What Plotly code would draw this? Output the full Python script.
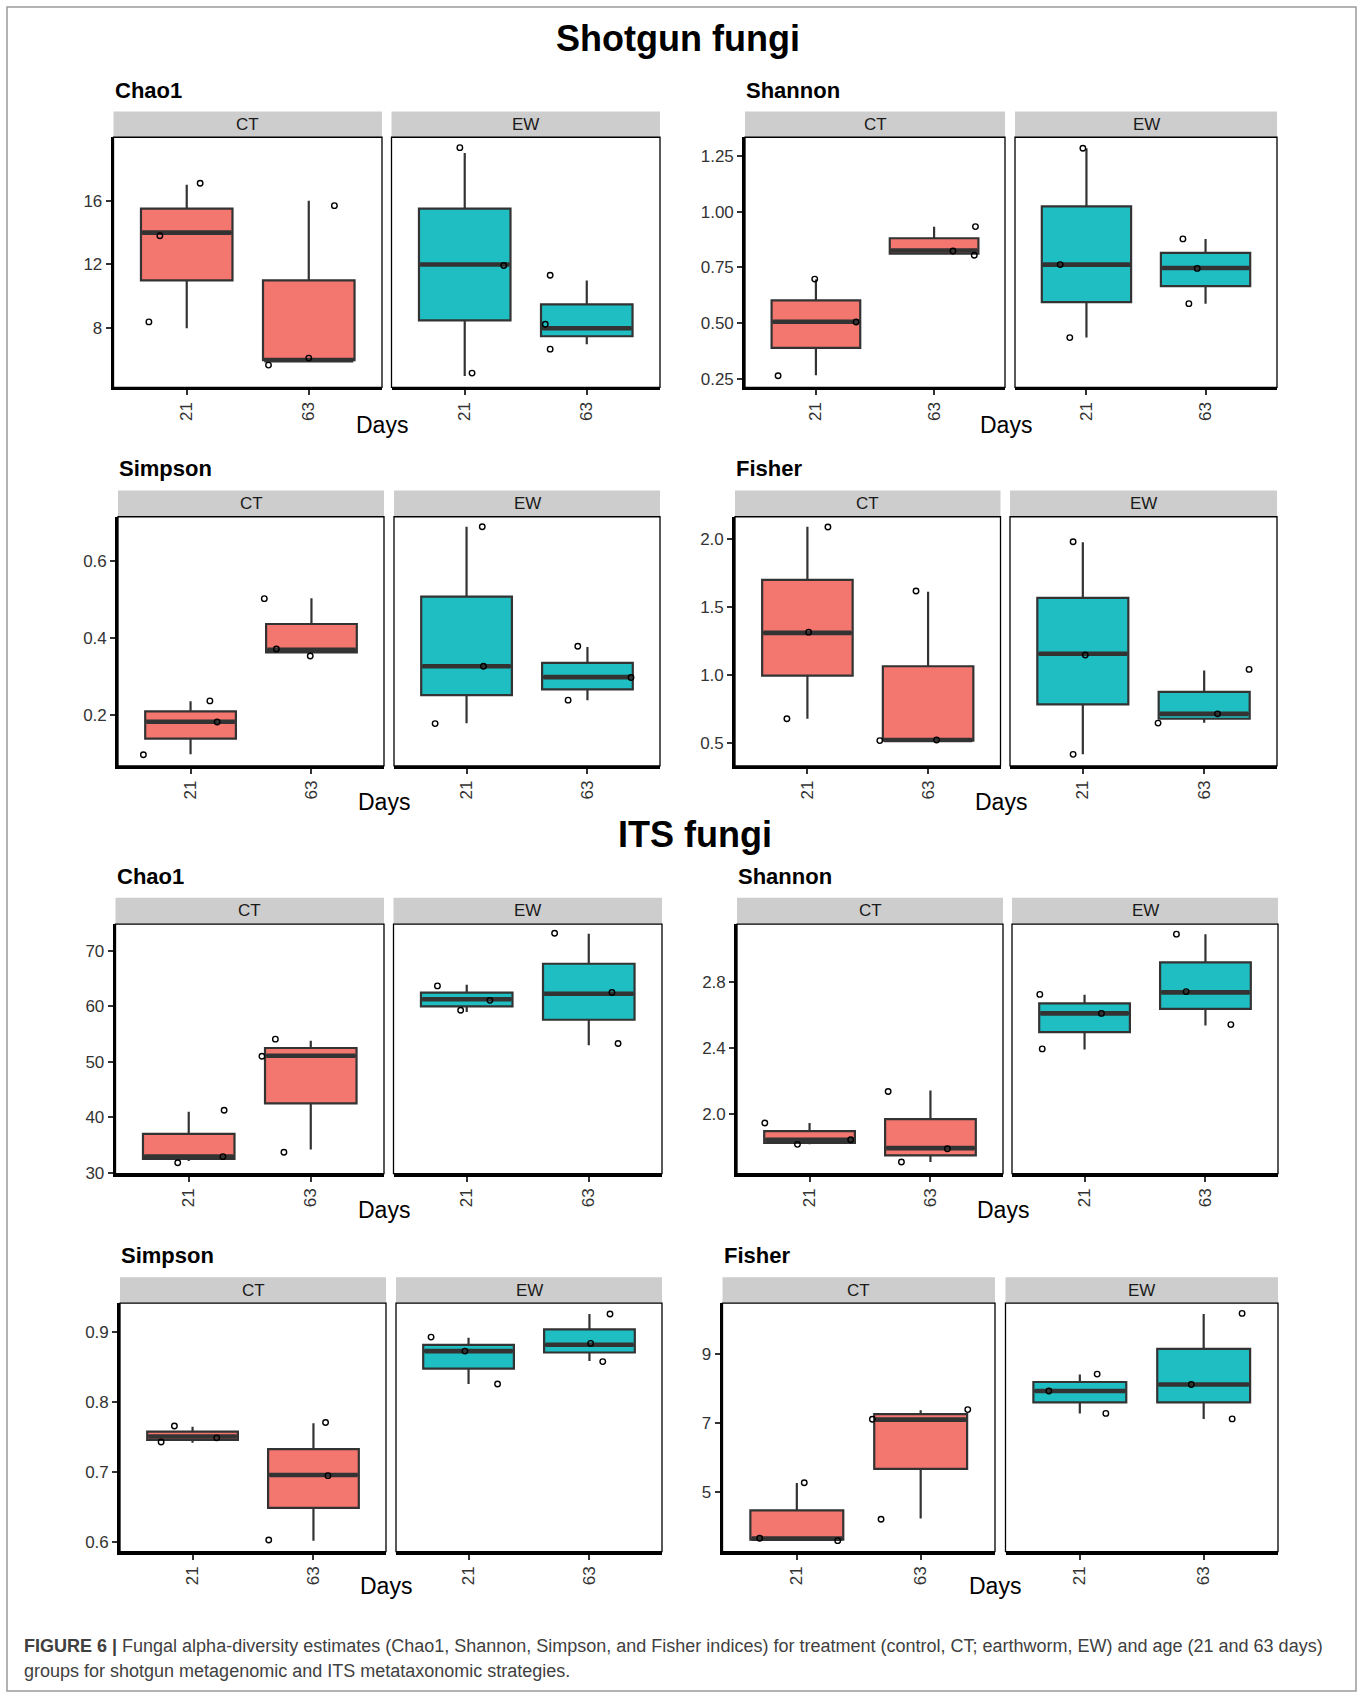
import plotly.graph_objects as go

W, H = 1363, 1692

DAYS = ["21", "63"]
TREATMENTS = ["CT", "EW"]
# Group order in every array below: CT-21, CT-63, EW-21, EW-63

# ---------------- Shotgun fungi ----------------
sg_chao1_lower = [8, 6, 5, 7]
sg_chao1_q1 = [11, 6, 8.5, 7.5]
sg_chao1_median = [14, 6, 12, 8]
sg_chao1_q3 = [15.5, 11, 15.5, 9.5]
sg_chao1_upper = [17, 16, 19, 11]
sg_chao1_points = [[8.4, 13.8, 17.1], [5.69, 6.13, 15.69], [19.33, 11.94, 5.19], [11.33, 8.25, 6.69]]
sg_chao1_jitter = [[-0.31, -0.22, 0.11], [-0.33, 0.0, 0.21], [-0.04, 0.32, 0.06], [-0.30, -0.34, -0.30]]
sg_chao1_ticks = [8, 12, 16]
sg_chao1_ticklabels = ["8", "12", "16"]

sg_shannon_lower = [0.268, 0.808, 0.436, 0.588]
sg_shannon_q1 = [0.39, 0.8125, 0.595, 0.667]
sg_shannon_median = [0.507, 0.826, 0.763, 0.748]
sg_shannon_q3 = [0.603, 0.881, 1.024, 0.815]
sg_shannon_upper = [0.696, 0.932, 1.284, 0.878]
sg_shannon_points = [[0.265, 0.506, 0.698], [0.824, 0.805, 0.933], [1.284, 0.763, 0.436], [0.878, 0.746, 0.588]]
sg_shannon_jitter = [[-0.32, 0.34, -0.01], [0.16, 0.34, 0.35], [-0.03, -0.22, -0.14], [-0.19, -0.07, -0.14]]
sg_shannon_ticks = [0.25, 0.50, 0.75, 1.00, 1.25]
sg_shannon_ticklabels = ["0.25", "0.50", "0.75", "1.00", "1.25"]

sg_simpson_lower = [0.097, 0.362, 0.178, 0.238]
sg_simpson_q1 = [0.138, 0.362, 0.251, 0.266]
sg_simpson_median = [0.182, 0.369, 0.326, 0.298]
sg_simpson_q3 = [0.209, 0.436, 0.507, 0.335]
sg_simpson_upper = [0.235, 0.503, 0.689, 0.376]
sg_simpson_points = [[0.096, 0.236, 0.181], [0.502, 0.371, 0.353], [0.689, 0.326, 0.177], [0.378, 0.297, 0.238]]
sg_simpson_jitter = [[-0.39, 0.16, 0.22], [-0.39, -0.29, -0.01], [0.13, 0.14, -0.26], [-0.08, 0.36, -0.16]]
sg_simpson_ticks = [0.2, 0.4, 0.6]
sg_simpson_ticklabels = ["0.2", "0.4", "0.6"]

sg_fisher_lower = [0.678, 0.517, 0.416, 0.648]
sg_fisher_q1 = [0.995, 0.517, 0.783, 0.678]
sg_fisher_median = [1.31, 0.522, 1.156, 0.714]
sg_fisher_q3 = [1.699, 1.064, 1.567, 0.875]
sg_fisher_upper = [2.09, 1.613, 1.977, 1.032]
sg_fisher_points = [[2.088, 1.315, 0.678], [1.618, 0.522, 0.517], [1.98, 1.147, 0.416], [1.041, 0.714, 0.646]]
sg_fisher_jitter = [[0.17, 0.01, -0.17], [-0.10, 0.07, -0.40], [-0.08, 0.02, -0.08], [0.37, 0.11, -0.38]]
sg_fisher_ticks = [0.5, 1.0, 1.5, 2.0]
sg_fisher_ticklabels = ["0.5", "1.0", "1.5", "2.0"]

# ---------------- ITS fungi ----------------
its_chao1_lower = [32.1, 34.2, 59.0, 53.0]
its_chao1_q1 = [32.5, 42.5, 60.0, 57.6]
its_chao1_median = [32.9, 51.1, 61.3, 62.3]
its_chao1_q3 = [37.0, 52.5, 62.5, 67.7]
its_chao1_upper = [41.0, 53.8, 63.9, 73.1]
its_chao1_points = [[31.8, 32.9, 41.26], [54.1, 51.0, 33.7], [63.7, 61.1, 59.3], [73.2, 62.5, 53.3]]
its_chao1_jitter = [[-0.09, 0.28, 0.29], [-0.29, -0.40, -0.22], [-0.24, 0.19, -0.05], [-0.28, 0.19, 0.24]]
its_chao1_ticks = [30, 40, 50, 60, 70]
its_chao1_ticklabels = ["30", "40", "50", "60", "70"]

its_shannon_lower = [1.815, 1.708, 2.389, 2.534]
its_shannon_q1 = [1.823, 1.748, 2.494, 2.635]
its_shannon_median = [1.843, 1.792, 2.608, 2.735]
its_shannon_q3 = [1.895, 1.968, 2.669, 2.917]
its_shannon_upper = [1.944, 2.141, 2.721, 3.088]
its_shannon_points = [[1.944, 1.815, 1.843], [2.135, 1.788, 1.708], [2.723, 2.608, 2.393], [3.088, 2.740, 2.540]]
its_shannon_jitter = [[-0.37, -0.10, 0.34], [-0.35, 0.14, -0.24], [-0.37, 0.14, -0.35], [-0.24, -0.16, 0.21]]
its_shannon_ticks = [2.0, 2.4, 2.8]
its_shannon_ticklabels = ["2.0", "2.4", "2.8"]

its_simpson_lower = [0.742, 0.602, 0.826, 0.859]
its_simpson_q1 = [0.746, 0.649, 0.848, 0.871]
its_simpson_median = [0.751, 0.696, 0.873, 0.882]
its_simpson_q3 = [0.758, 0.733, 0.882, 0.904]
its_simpson_upper = [0.765, 0.770, 0.892, 0.926]
its_simpson_points = [[0.766, 0.743, 0.749], [0.771, 0.695, 0.603], [0.893, 0.873, 0.826], [0.926, 0.884, 0.858]]
its_simpson_jitter = [[-0.15, -0.26, 0.20], [0.10, 0.12, -0.37], [-0.31, -0.03, 0.24], [0.17, 0.01, 0.11]]
its_simpson_ticks = [0.6, 0.7, 0.8, 0.9]
its_simpson_ticklabels = ["0.6", "0.7", "0.8", "0.9"]

its_fisher_lower = [3.62, 4.24, 7.29, 7.13]
its_fisher_q1 = [3.63, 5.68, 7.61, 7.61]
its_fisher_median = [3.66, 7.11, 7.94, 8.13]
its_fisher_q3 = [4.48, 7.27, 8.20, 9.16]
its_fisher_upper = [5.27, 7.38, 8.42, 10.17]
its_fisher_points = [[5.28, 3.67, 3.60], [7.40, 7.12, 4.22], [8.43, 7.94, 7.29], [10.19, 8.13, 7.13]]
its_fisher_jitter = [[0.06, -0.30, 0.33], [0.38, -0.39, -0.32], [0.14, -0.25, 0.21], [0.31, -0.10, 0.23]]
its_fisher_ticks = [5, 7, 9]
its_fisher_ticklabels = ["5", "7", "9"]

# ---------------- styles / layout ----------------
FILL = {"CT": "#F3766F", "EW": "#1FBEC2"}
EDGE = "#333333"
FONT = "Liberation Sans, Arial, Helvetica, sans-serif"
BOX_W = 0.75
TICK_SIZE = 17
STRIP_SIZE = 17

# rows: (title y, strip top, plot top, plot bottom, "Days" y) in px
ROWS = [
    (90, 112, 138, 389.5, 427),
    (470, 493, 519.5, 770, 806),
    (880, 902.5, 929, 1180, 1216),
    (1261, 1284, 1310, 1560, 1594),
]
# facet x extents [CT left, CT right, EW left, EW right] per (row, col)
XEXT = {
    (0, 0): [113.5, 382, 391.5, 660], (0, 1): [745, 1005, 1015, 1277],
    (1, 0): [118, 384, 394, 660], (1, 1): [735, 1000.5, 1010, 1277],
    (2, 0): [115.5, 384, 393.5, 662], (2, 1): [737, 1003, 1012, 1278],
    (3, 0): [120, 386, 396, 662], (3, 1): [722.5, 995, 1005.5, 1278],
}

panels = [
    ("Chao1", 0, 0, sg_chao1_lower, sg_chao1_q1, sg_chao1_median, sg_chao1_q3, sg_chao1_upper,
     sg_chao1_points, sg_chao1_jitter, sg_chao1_ticks, sg_chao1_ticklabels, [4.29, 19.98]),
    ("Shannon", 0, 1, sg_shannon_lower, sg_shannon_q1, sg_shannon_median, sg_shannon_q3, sg_shannon_upper,
     sg_shannon_points, sg_shannon_jitter, sg_shannon_ticks, sg_shannon_ticklabels, [0.213, 1.333]),
    ("Simpson", 1, 0, sg_simpson_lower, sg_simpson_q1, sg_simpson_median, sg_simpson_q3, sg_simpson_upper,
     sg_simpson_points, sg_simpson_jitter, sg_simpson_ticks, sg_simpson_ticklabels, [0.067, 0.715]),
    ("Fisher", 1, 1, sg_fisher_lower, sg_fisher_q1, sg_fisher_median, sg_fisher_q3, sg_fisher_upper,
     sg_fisher_points, sg_fisher_jitter, sg_fisher_ticks, sg_fisher_ticklabels, [0.331, 2.164]),
    ("Chao1", 2, 0, its_chao1_lower, its_chao1_q1, its_chao1_median, its_chao1_q3, its_chao1_upper,
     its_chao1_points, its_chao1_jitter, its_chao1_ticks, its_chao1_ticklabels, [29.82, 74.86]),
    ("Shannon", 2, 1, its_shannon_lower, its_shannon_q1, its_shannon_median, its_shannon_q3, its_shannon_upper,
     its_shannon_points, its_shannon_jitter, its_shannon_ticks, its_shannon_ticklabels, [1.637, 3.149]),
    ("Simpson", 3, 0, its_simpson_lower, its_simpson_q1, its_simpson_median, its_simpson_q3, its_simpson_upper,
     its_simpson_points, its_simpson_jitter, its_simpson_ticks, its_simpson_ticklabels, [0.5863, 0.9417]),
    ("Fisher", 3, 1, its_fisher_lower, its_fisher_q1, its_fisher_median, its_fisher_q3, its_fisher_upper,
     its_fisher_points, its_fisher_jitter, its_fisher_ticks, its_fisher_ticklabels, [3.28, 10.49]),
]

fig = go.Figure()
layout = {}
shapes = []
annotations = []

def px_x(v):
    return v / W

def px_y(v):
    return 1 - v / H

k = 0
for (title, r, c, lo, q1, med, q3, hi, pts, jit, tv, tt, yr) in panels:
    t_y, s_top, p_top, p_bot, d_y = ROWS[r]
    ext = XEXT[(r, c)]
    # panel title
    annotations.append(dict(text="<b>%s</b>" % title, x=px_x(ext[0] - 1), y=px_y(t_y + 1), xref="paper", yref="paper",
                            xanchor="left", yanchor="middle", showarrow=False,
                            font=dict(family=FONT, size=22, color="#000000")))
    # "Days"
    annotations.append(dict(text="Days", x=px_x((ext[0] + ext[3]) / 2 - 5), y=px_y(d_y), xref="paper", yref="paper",
                            xanchor="center", yanchor="middle", showarrow=False,
                            font=dict(family=FONT, size=23, color="#000000")))
    for f, trt in enumerate(TREATMENTS):
        k += 1
        xl, xr = ext[2 * f], ext[2 * f + 1]
        xa = "xaxis" if k == 1 else "xaxis%d" % k
        ya = "yaxis" if k == 1 else "yaxis%d" % k
        xs = "x" if k == 1 else "x%d" % k
        ys = "y" if k == 1 else "y%d" % k
        layout[xa] = dict(domain=[px_x(xl), px_x(xr)], range=[0.4, 2.6], anchor=ys,
                          tickmode="array", tickvals=[1, 2], ticktext=DAYS, tickangle=-90,
                          ticks="outside", ticklen=5, tickwidth=1.6, tickcolor="#333333",
                          tickfont=dict(family=FONT, size=TICK_SIZE, color="#333333"),
                          showline=True, linecolor="#000000", linewidth=2.6,
                          showgrid=False, zeroline=False, fixedrange=True)
        ydict = dict(domain=[px_y(p_bot), px_y(p_top)], range=yr, anchor=xs,
                     showgrid=False, zeroline=False, fixedrange=True)
        if f == 0:
            ydict.update(tickmode="array", tickvals=tv, ticktext=tt, ticks="outside", ticklen=5,
                         tickwidth=1.6, tickcolor="#333333",
                         tickfont=dict(family=FONT, size=TICK_SIZE, color="#333333"),
                         showline=True, linecolor="#000000", linewidth=2.6)
        else:
            ydict.update(showticklabels=False, ticks="", showline=False)
        layout[ya] = ydict

        idx = [2 * f, 2 * f + 1]
        pos = [1, 2]
        fig.add_trace(go.Box(
            x=pos, q1=[q1[i] for i in idx], median=[med[i] for i in idx], q3=[q3[i] for i in idx],
            lowerfence=[lo[i] for i in idx], upperfence=[hi[i] for i in idx],
            width=BOX_W, whiskerwidth=0, boxpoints=False,
            fillcolor=FILL[trt], line=dict(color=EDGE, width=2.2),
            xaxis=xs, yaxis=ys, showlegend=False, hoverinfo="skip"))
        # thicker median bar (ggplot fatten)
        mx, my = [], []
        for p, i in zip(pos, idx):
            mx += [p - BOX_W / 2 + 0.01, p + BOX_W / 2 - 0.01, None]
            my += [med[i], med[i], None]
        fig.add_trace(go.Scatter(x=mx, y=my, mode="lines", line=dict(color=EDGE, width=4.6),
                                 xaxis=xs, yaxis=ys, showlegend=False, hoverinfo="skip"))
        # jittered sample points
        px_, py_ = [], []
        for p, i in zip(pos, idx):
            for v, j in zip(pts[i], jit[i]):
                px_.append(p + j)
                py_.append(v)
        fig.add_trace(go.Scatter(x=px_, y=py_, mode="markers",
                                 marker=dict(symbol="circle-open", size=5.5, color="#000000",
                                             line=dict(width=1.4, color="#000000")),
                                 xaxis=xs, yaxis=ys, showlegend=False, hoverinfo="skip"))
        # panel border
        shapes.append(dict(type="rect", xref="%s domain" % xs, yref="%s domain" % ys,
                           x0=0, x1=1, y0=0, y1=1, line=dict(color="#000000", width=1.3), layer="above"))
        # strip
        shapes.append(dict(type="rect", xref="paper", yref="paper", x0=px_x(xl), x1=px_x(xr),
                           y0=px_y(p_top), y1=px_y(s_top), fillcolor="#CDCDCD", line=dict(width=0),
                           layer="below"))
        annotations.append(dict(text=trt, x=px_x((xl + xr) / 2), y=px_y((s_top + p_top) / 2),
                                xref="paper", yref="paper", xanchor="center", yanchor="middle",
                                showarrow=False, font=dict(family=FONT, size=STRIP_SIZE, color="#1A1A1A")))

# big titles
annotations.append(dict(text="<b>Shotgun fungi</b>", x=px_x(678), y=px_y(39), xref="paper", yref="paper",
                        xanchor="center", yanchor="middle", showarrow=False,
                        font=dict(family=FONT, size=36, color="#000000")))
annotations.append(dict(text="<b>ITS fungi</b>", x=px_x(695), y=px_y(839), xref="paper", yref="paper",
                        xanchor="center", yanchor="middle", showarrow=False,
                        font=dict(family=FONT, size=36, color="#000000")))

# caption
annotations.append(dict(
    text="<b>FIGURE 6 |</b> Fungal alpha-diversity estimates (Chao1, Shannon, Simpson, and Fisher indices) "
         "for treatment (control, CT; earthworm, EW) and age (21 and 63 days)",
    x=px_x(21.5), y=px_y(1654.5), xref="paper", yref="paper", xanchor="left", yanchor="middle",
    showarrow=False, font=dict(family=FONT, size=18, color="#404040")))
annotations.append(dict(
    text="groups for shotgun metagenomic and ITS metataxonomic strategies.",
    x=px_x(21.5), y=px_y(1679.5), xref="paper", yref="paper", xanchor="left", yanchor="middle",
    showarrow=False, font=dict(family=FONT, size=18, color="#404040")))

# outer frame
shapes.append(dict(type="rect", xref="paper", yref="paper", x0=px_x(7), x1=px_x(1356),
                   y0=px_y(1700), y1=px_y(7), line=dict(color="#9A9A9A", width=1.5), layer="below"))

fig.update_layout(
    width=W, height=H, margin=dict(l=0, r=0, t=0, b=0),
    paper_bgcolor="#FFFFFF", plot_bgcolor="#FFFFFF",
    showlegend=False, shapes=shapes, annotations=annotations,
    boxmode="overlay", font=dict(family=FONT), **layout)

fig.write_html("out.html", config={"displayModeBar": False},
               post_script="document.body.style.margin='0';document.body.style.overflow='hidden';")
